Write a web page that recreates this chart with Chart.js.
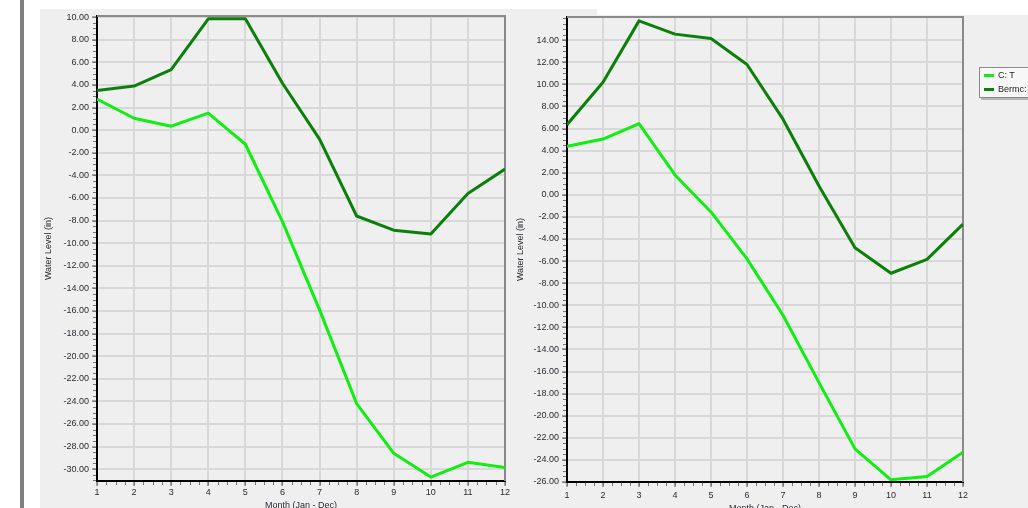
<!DOCTYPE html>
<html lang="en">
<head>
<meta charset="UTF-8">
<title>Water Level by Month</title>
<script src="https://cdn.jsdelivr.net/npm/chart.js"></script>
<style>
    html, body { margin: 0; padding: 0; background: #fff; width: 1028px; height: 508px; overflow: hidden; position: relative; font-family: "Liberation Sans", Arial, sans-serif; }
    .bar { position: absolute; left: 20px; top: 0; width: 4px; height: 508px; background: #7f7f7f; }
    .panelA { position: absolute; left: 40px; top: 9px; width: 557px; height: 499px; background: #efefef; }
    .panelB { position: absolute; left: 597px; top: 15px; width: 431px; height: 493px; background: #efefef; }
    .wrap { position: absolute; top: 0; }
    #wrapA { left: 40px; }
    #wrapB { left: 510px; }
    .legend { position: absolute; left: 979px; top: 67px; width: 70px; height: 29px; background: #f7f7f7; border: 1px solid #8a8a8a; box-shadow: 2px 2px 0 #b5b5b5; font-size: 9px; color: #222; }
    .legend div { height: 13px; line-height: 13px; padding-left: 4px; margin-top: 1px; }
    .legend span { display: inline-block; width: 10px; height: 3px; vertical-align: middle; margin-right: 4px; }
</style>
</head>
<body>
    <div class="bar"></div>
    <div class="panelA"></div>
    <div class="panelB"></div>
    <div class="wrap" id="wrapA"><canvas id="chartA" width="480" height="516"></canvas></div>
    <div class="wrap" id="wrapB"><canvas id="chartB" width="518" height="516"></canvas></div>
    <div class="legend" id="legend"></div>

    <script>
        // months on the x axis
        const months = [1, 2, 3, 4, 5, 6, 7, 8, 9, 10, 11, 12];
        const seriesNames = ['C: T', 'Bermc:'];
        const seriesColors = ['#11ee11', '#0a800a'];

        // left chart
        const leftCT = [2.75, 1.05, 0.35, 1.5, -1.25, -8.1, -15.9, -24.2, -28.6, -30.7, -29.4, -29.85];
        const leftBermc = [3.5, 3.9, 5.35, 9.85, 9.85, 4.15, -0.8, -7.6, -8.85, -9.2, -5.6, -3.45];
        const leftYTicks = [10, 8, 6, 4, 2, 0, -2, -4, -6, -8, -10, -12, -14, -16, -18, -20, -22, -24, -26, -28, -30];

        // right chart
        const rightCT = [4.4, 5.05, 6.45, 1.8, -1.55, -5.8, -10.9, -17.0, -23.0, -25.8, -25.5, -23.3];
        const rightBermc = [6.35, 10.2, 15.75, 14.55, 14.15, 11.8, 6.85, 0.8, -4.8, -7.1, -5.85, -2.65];
        const rightYTicks = [14, 12, 10, 8, 6, 4, 2, 0, -2, -4, -6, -8, -10, -12, -14, -16, -18, -20, -22, -24, -26];

        const font = { family: '"Liberation Sans", Arial, sans-serif', size: 9 };
        const textColor = '#2b2b33';

        // minor ticks + grey top/right frame
        const framePlugin = {
            id: 'frame',
            beforeDatasetsDraw(chart) {
                const { ctx, chartArea: a, scales: { x, y } } = chart;
                ctx.save();
                ctx.strokeStyle = '#8a8a8a';
                ctx.lineWidth = 2;
                ctx.beginPath();
                ctx.moveTo(a.left, a.top);
                ctx.lineTo(a.right, a.top);
                ctx.lineTo(a.right, a.bottom);
                ctx.stroke();

                ctx.strokeStyle = '#777';
                ctx.lineWidth = 1;
                ctx.beginPath();
                for (let v = Math.ceil(y.min * 2) / 2; v <= y.max; v += 0.5) {
                    const py = Math.round(y.getPixelForValue(v)) + 0.5;
                    ctx.moveTo(a.left - 4, py);
                    ctx.lineTo(a.left - 1, py);
                }
                for (let v = x.min; v <= x.max; v += 0.25) {
                    const px = Math.round(x.getPixelForValue(v)) + 0.5;
                    ctx.moveTo(px, a.bottom + 1);
                    ctx.lineTo(px, a.bottom + 4);
                }
                ctx.stroke();
                ctx.restore();
            }
        };

        function makeChart(id, ct, bermc, yTicks, yMin, yMax, pad, xHeight, xTickPad) {
            return new Chart(document.getElementById(id), {
                type: 'line',
                data: {
                    datasets: [
                        { label: seriesNames[0], data: months.map((m, i) => ({ x: m, y: ct[i] })), borderColor: seriesColors[0] },
                        { label: seriesNames[1], data: months.map((m, i) => ({ x: m, y: bermc[i] })), borderColor: seriesColors[1] }
                    ]
                },
                options: {
                    responsive: false,
                    animation: false,
                    layout: { padding: pad },
                    elements: {
                        point: { radius: 0 },
                        line: { borderWidth: 3, tension: 0, borderJoinStyle: 'round' }
                    },
                    scales: {
                        x: {
                            type: 'linear',
                            min: 1,
                            max: 12,
                            afterFit: s => { s.height = xHeight; },
                            ticks: { stepSize: 1, font: font, color: textColor, padding: xTickPad, maxRotation: 0 },
                            title: { display: true, text: 'Month (Jan - Dec)', font: font, color: textColor, padding: { top: 0, bottom: 0 } },
                            grid: { color: '#d8d8d8', lineWidth: 2, tickColor: '#555', tickLength: 5, tickWidth: 1 },
                            border: { color: '#000', width: 2 }
                        },
                        y: {
                            min: yMin,
                            max: yMax,
                            afterBuildTicks: s => { s.ticks = yTicks.map(v => ({ value: v })); },
                            afterFit: s => { s.width = 57 - pad.left; },
                            ticks: { font: font, color: textColor, padding: 3, autoSkip: false, callback: v => v.toFixed(2) },
                            title: { display: true, text: 'Water Level (in)', font: font, color: textColor, padding: { top: 0, bottom: 0 } },
                            grid: { color: '#d8d8d8', lineWidth: 2, tickColor: '#555', tickLength: 5, tickWidth: 1 },
                            border: { color: '#000', width: 2 }
                        }
                    },
                    plugins: {
                        legend: { display: false },
                        tooltip: { enabled: false }
                    }
                },
                plugins: [framePlugin]
            });
        }

        makeChart('chartA', leftCT, leftBermc, leftYTicks, -31.05, 10.1, { left: 3, top: 16, right: 15, bottom: 5 }, 30, 1);
        makeChart('chartB', rightCT, rightBermc, rightYTicks, -26, 16.1, { left: 5, top: 17, right: 65, bottom: 2 }, 32, 3);

        // legend box
        document.getElementById('legend').innerHTML = seriesNames.map((n, i) =>
            '<div><span style="background:' + seriesColors[i] + '"></span>' + n + '</div>').join('');
    </script>
</body>
</html>
